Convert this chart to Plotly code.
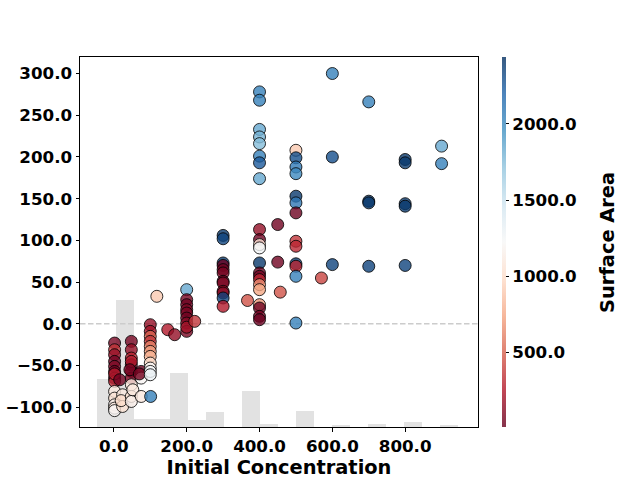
import plotly.graph_objects as go

# ---------------- data ----------------
conc = [
    # x ~ 0 column
    2, 2, 2, 2, 2, 2, 2, 2, 2, 2, 2, 2, 2, 2,
    # x ~ 20
    16, 24, 24, 20,
    # x ~ 48 column
    48, 48, 48, 48, 48, 48, 48, 48, 48, 48, 44, 52,
    # x ~ 75
    75, 75, 75, 70,
    # x ~ 100 column
    100, 100, 100, 100, 100, 100, 100, 100, 100, 100, 100, 101,
    # 118 / 150 / 170
    118, 148, 167,
    # x 200 column
    200, 200, 200, 200, 200, 200, 200, 200, 200, 222,
    # x 300 column
    300, 300, 300, 300, 300, 300, 300, 300, 300, 300, 300, 300,
    # 367
    367,
    # x 400 column
    400, 400, 400, 400, 400, 400, 400, 400, 400, 400, 400, 400,
    400, 400, 400, 400, 400, 400, 400, 400, 400, 400,
    # 450
    450, 450, 457,
    # x 500 column
    500, 500, 500, 500, 500, 500, 500, 500, 500, 500, 500, 500, 500,
    # 570
    570,
    # 600
    600, 600, 600,
    # 700
    700, 700, 700, 700,
    # 800
    800, 800, 800, 800, 800,
    # 900
    900, 900,
]

value = [
    -23, -31, -37, -45, -51, -57, -65, -69, -81, -89, -97, -101, -104, -60,
    -67, -85, -99, -92,
    -21, -31, -41, -49, -57, -65, -73, -87, -93, -45, -55, -79,
    -57, -65, -87, -60,
    -1, -9, -15, -21, -27, -33, -39, -47, -53, -57, -61, -87,
    33, -7, -13,
    41, 29, 23, 17, 13, 7, 1, -9, -4, 3,
    106, 102, 73, 70, 65, 61, 51, 49, 39, 37, 31, 21,
    28,
    278, 268, 233, 224, 216, 201, 193, 174, 113, 101, 95, 91,
    73, 61, 57, 53, 47, 41, 23, 19, 9, 5,
    119, 74, 38,
    208, 199, 188, 180, 153, 145, 133, 99, 93, 72, 69, 57, 1,
    55,
    300, 200, 71,
    266, 147, 145, 69,
    197, 193, 144, 141, 70,
    213, 192,
]

surface = [
    60, 350, 150, 40, 80, 30, 60, 300, 1100, 1050, 1150, 1100, 1200, 250,
    40, 1100, 1050, 1000,
    60, 150, 300, 40, 30, 80, 1100, 1050, 1150, 250, 60, 1100,
    30, 1200, 1100, 60,
    150, 200, 500, 350, 600, 700, 800, 1000, 1200, 1250, 1300, 2050,
    900, 250, 150,
    1850, 50, 30, 80, 60, 40, 100, 70, 200, 350,
    2400, 2350, 2400, 20, 40, 60, 30, 80, 150, 100, 2350, 250,
    450,
    2050, 2050, 1850, 1800, 1750, 2050, 2250, 1850, 150, 30, 1050, 1250,
    2400, 30, 40, 300, 650, 750, 700, 30, 40, 20,
    40, 40, 450,
    900, 2300, 2100, 2000, 2400, 2100, 30, 350, 300, 2400, 300, 2050, 2050,
    400,
    2050, 2300, 2350,
    2050, 2400, 2400, 2350,
    2400, 2400, 2400, 2400, 2350,
    1850, 2050,
]

# background histogram (bin centres, bar tops in y units)
hist_centers = [-20.25, 29.25, 78.75, 128.25, 177.75, 227.25, 276.75, 326.25,
                375.75, 425.25, 474.75, 524.25, 573.75, 623.25, 672.75,
                722.25, 771.75, 821.25, 870.75, 920.25]
hist_heights = [57.6, 152.0, 9.6, 9.2, 65.0, 8.6, 18.0, 0.0,
                43.0, 3.6, 0.0, 19.0, 0.0, 2.6, 0.0,
                3.6, 0.0, 6.0, 0.0, 2.4]

x_ticks = [0, 200, 400, 600, 800]
y_ticks = [-100, -50, 0, 50, 100, 150, 200, 250, 300]
cbar_ticks = [500, 1000, 1500, 2000]

X_RANGE = [-93, 1000]
Y_RANGE = [-123.6, 319.8]
C_RANGE = [9, 2440]

# matplotlib RdBu with alpha 0.8
rdbu = ["#67001f", "#b2182b", "#d6604d", "#f4a582", "#fddbc7", "#f7f7f7",
        "#d1e5f0", "#92c5de", "#4393c3", "#2166ac", "#053061"]


def rgba(h, a=0.8):
    h = h.lstrip("#")
    r, g, b = int(h[0:2], 16), int(h[2:4], 16), int(h[4:6], 16)
    return f"rgba({r},{g},{b},{a})"


colorscale = [[i / (len(rdbu) - 1), rgba(c)] for i, c in enumerate(rdbu)]

FONT = "DejaVu Sans"

fig = go.Figure()

fig.add_trace(go.Bar(
    x=hist_centers, y=hist_heights, base=Y_RANGE[0], width=49.5,
    marker=dict(color="#e2e2e2", line=dict(width=0)),
    showlegend=False, hoverinfo="skip",
))

fig.add_trace(go.Scatter(
    x=X_RANGE, y=[0, 0], mode="lines",
    line=dict(color="#cccccc", width=1.5, dash="5.5px,2.5px"),
    showlegend=False, hoverinfo="skip",
))

fig.add_trace(go.Scatter(
    x=conc, y=value, mode="markers",
    marker=dict(
        size=12, color=surface, colorscale=colorscale,
        cmin=C_RANGE[0], cmax=C_RANGE[1],
        line=dict(color="rgba(0,0,0,0.8)", width=1),
        colorbar=dict(
            x=1.0596, xanchor="left", xref="paper",
            y=0.5, yanchor="middle", len=1.0, lenmode="fraction",
            xpad=0, ypad=0,
            thickness=4, outlinewidth=0,
            ticks="outside", ticklen=3.5, tickwidth=1, tickcolor="black",
            tickvals=cbar_ticks, tickformat=".1f", tickprefix="\u2009",
            tickfont=dict(family=FONT, size=16.7, color="black", weight="bold"),
        ),
    ),
    showlegend=False,
))

axis_common = dict(
    showline=True, mirror=True, linecolor="black", linewidth=1,
    ticks="outside", ticklen=3.5, tickwidth=1, tickcolor="black",
    showgrid=False, zeroline=False, tickformat=".1f",
    tickfont=dict(family=FONT, size=16.7, color="black", weight="bold"),
)

fig.update_layout(
    width=640, height=480,
    margin=dict(l=80, r=162, t=57, b=53, autoexpand=False),
    paper_bgcolor="white", plot_bgcolor="white",
    bargap=0,
    xaxis=dict(range=X_RANGE, tickvals=x_ticks,
               title=dict(text="Initial Concentration", standoff=4,
                          font=dict(family=FONT, size=19.4, color="black",
                                    weight="bold")),
               **axis_common),
    yaxis=dict(range=Y_RANGE, tickvals=y_ticks, **axis_common),
    annotations=[dict(
        text="Surface Area", textangle=-90, showarrow=False,
        xref="paper", yref="paper", x=1.324, y=0.5,
        xanchor="center", yanchor="middle",
        font=dict(family=FONT, size=19.4, color="black", weight="bold"),
    )],
)

fig.write_html("out.html")
